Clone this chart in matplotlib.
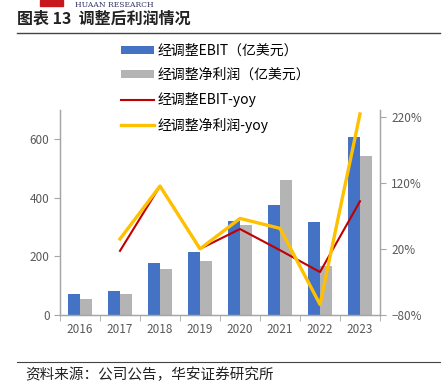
import matplotlib.pyplot as plt
import numpy as np
from matplotlib.ticker import FuncFormatter
from matplotlib.lines import Line2D
from matplotlib.patches import Patch, Rectangle

plt.rcParams['font.family'] = ['Noto Sans CJK SC', 'DejaVu Sans']
plt.rcParams['axes.unicode_minus'] = True

# data
years = ['2016', '2017', '2018', '2019', '2020', '2021', '2022', '2023']
ebit = [71, 83, 178, 214, 320, 377, 318, 608]          # 亿美元
net_profit = [53, 72, 156, 184, 306, 460, 167, 543]    # 亿美元
ebit_yoy = [None, 17, 115, 20, 50, 18, -15, 92]         # %
net_yoy = [None, 35, 115, 20, 66, 51, -64, 224]         # %

blue = '#4472C4'
grey = '#B4B4B4'
red = '#C00000'
gold = '#FFC000'
axis_col = '#A6A6A6'
txt_col = '#595959'

fig = plt.figure(figsize=(4.42, 3.92), dpi=100)
ax = fig.add_axes([60 / 442, 77 / 392, 320 / 442, 205 / 392])
ax2 = ax.twinx()

x = np.arange(len(years))
w = 0.29
ax.bar(x - w / 2, ebit, w, color=blue, zorder=2)
ax.bar(x + w / 2, net_profit, w, color=grey, zorder=2)

ey = np.array([np.nan if v is None else v for v in ebit_yoy], dtype=float)
ny = np.array([np.nan if v is None else v for v in net_yoy], dtype=float)
ax2.plot(x, ey, color=red, lw=1.5, zorder=3)
ax2.plot(x, ny, color=gold, lw=2.4, zorder=4)

ax.set_xlim(-0.5, len(years) - 0.5)
ax.set_ylim(0, 700)
ax.set_yticks([0, 200, 400, 600])
ax2.set_ylim(-80, 230)
ax2.set_yticks([-80, 20, 120, 220])
ax2.yaxis.set_major_formatter(FuncFormatter(lambda v, p: f'{v:.0f}%'.replace('-', '\u2212')))

ax.set_xticks(x)
ax.set_xticklabels(years)
ax.set_xticks(np.arange(-0.5, len(years)), minor=True)
ax.tick_params(axis='x', which='major', length=0, pad=6)
ax.tick_params(axis='x', which='minor', length=4, color=axis_col)

for a in (ax, ax2):
    a.spines['top'].set_visible(False)
    for s in ('left', 'right', 'bottom'):
        a.spines[s].set_color(axis_col)
        a.spines[s].set_linewidth(0.9)
    a.tick_params(axis='y', length=4, color=axis_col, labelcolor=txt_col, labelsize=8.5)
ax.tick_params(axis='x', labelcolor=txt_col, labelsize=8.5)
ax2.tick_params(axis='y', pad=4)

handles = [
    Patch(facecolor=blue, edgecolor='none'),
    Patch(facecolor=grey, edgecolor='none'),
    Line2D([], [], color=red, lw=1.5),
    Line2D([], [], color=gold, lw=2.4),
]
labels = ['经调整EBIT（亿美元）', '经调整净利润（亿美元）', '经调整EBIT-yoy', '经调整净利润-yoy']
fig.legend(handles, labels, loc='upper left', bbox_to_anchor=(108 / 442, 1 - 31 / 392),
           frameon=False, fontsize=10, handlelength=2.4, handleheight=0.5,
           labelspacing=0.75, handletextpad=0.3)

# header / footer
fig.text(17 / 442, 1 - 19 / 392, '图表 13  调整后利润情况', fontsize=11.5, fontweight='bold',
         va='center', ha='left', color='#222222')
fig.text(75 / 442, 1 - 5 / 392, 'HUAAN RESEARCH', fontsize=5.5, family='DejaVu Serif',
         va='center', ha='left', color='#333366')
fig.patches.append(Rectangle((40 / 442, 1 - 6 / 392), 23 / 442, 6 / 392,
                             transform=fig.transFigure, color='#C8161D'))
fig.add_artist(Line2D([17 / 442, 440 / 442], [1 - 33 / 392, 1 - 33 / 392],
                      transform=fig.transFigure, color='#444444', lw=1.0))
fig.add_artist(Line2D([17 / 442, 440 / 442], [1 - 362 / 392, 1 - 362 / 392],
                      transform=fig.transFigure, color='#444444', lw=0.8))
fig.text(25 / 442, 1 - 375 / 392, '资料来源：公司公告，华安证券研究所', fontsize=10.5,
         va='center', ha='left', color='#222222')

fig.savefig('out.png', dpi=100)
